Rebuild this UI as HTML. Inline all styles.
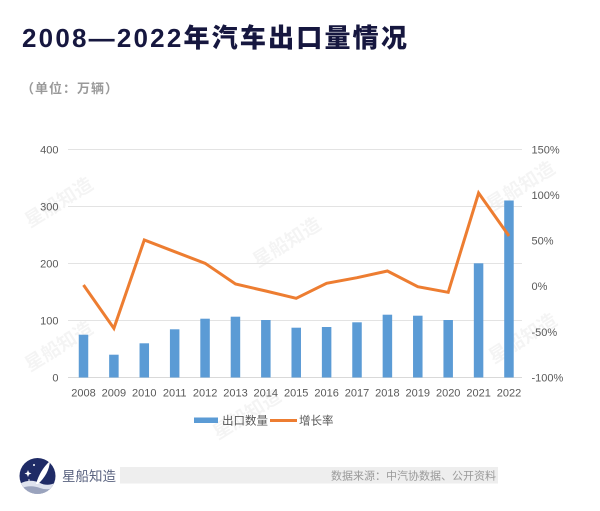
<!DOCTYPE html>
<html><head><meta charset="utf-8"><style>
html,body{margin:0;padding:0;background:#fff;}
svg{display:block;}
</style></head><body>
<svg width="600" height="511" viewBox="0 0 600 511" xmlns="http://www.w3.org/2000/svg">
<rect width="600" height="511" fill="#fff"/>
<!-- Title -->
<text x="22" y="47" font-family="'Liberation Sans','Noto Sans CJK SC',sans-serif" font-weight="900" font-size="26" letter-spacing="2.2" fill="#16173f">2008—2022年汽车出口量情况</text>
<text x="21" y="93" font-family="'Liberation Sans','Noto Sans CJK SC',sans-serif" font-weight="700" font-size="13" letter-spacing="1" fill="#9a9a9a">（单位：万辆）</text>

<!-- watermarks -->
<g font-family="'Noto Sans CJK SC',sans-serif" font-weight="700" font-size="19" fill="#000" fill-opacity="0.045">
<text transform="translate(30,228) rotate(-32)">星船知造</text>
<text transform="translate(30,372) rotate(-32)">星船知造</text>
<text transform="translate(258,268) rotate(-32)">星船知造</text>
<text transform="translate(492,212) rotate(-32)">星船知造</text>
<text transform="translate(494,364) rotate(-32)">星船知造</text>
<text transform="translate(218,440) rotate(-32)">星船知造</text>
</g>

<!-- grid -->
<g stroke="#e3e3e3" stroke-width="1">
<line x1="68" y1="149.5" x2="522" y2="149.5"/>
<line x1="68" y1="206.5" x2="522" y2="206.5"/>
<line x1="68" y1="263.5" x2="522" y2="263.5"/>
<line x1="68" y1="320.5" x2="522" y2="320.5"/>
<line x1="68" y1="377.5" x2="522" y2="377.5" stroke="#d9d9d9"/>
</g>

<!-- left axis labels -->
<g font-family="'Liberation Sans',sans-serif" font-size="11" fill="#595959" text-anchor="end">
<text x="58.5" y="153.5">400</text>
<text x="58.5" y="210.5">300</text>
<text x="58.5" y="267.5">200</text>
<text x="58.5" y="324.5">100</text>
<text x="58.5" y="381.5">0</text>
</g>
<!-- right axis labels -->
<g font-family="'Liberation Sans',sans-serif" font-size="11" fill="#595959">
<text x="531.5" y="153.5">150%</text>
<text x="531.5" y="199">100%</text>
<text x="531.5" y="244.5">50%</text>
<text x="531.5" y="290">0%</text>
<text x="531.5" y="336">-50%</text>
<text x="531.5" y="381.5">-100%</text>
</g>

<!-- bars -->
<g fill="#5b9bd5">
<rect x="78.75" y="334.7" width="9.5" height="42.8"/>
<rect x="109.14" y="354.7" width="9.5" height="22.8"/>
<rect x="139.53" y="343.3" width="9.5" height="34.2"/>
<rect x="169.92" y="329.3" width="9.5" height="48.2"/>
<rect x="200.31" y="318.7" width="9.5" height="58.8"/>
<rect x="230.7" y="316.7" width="9.5" height="60.8"/>
<rect x="261.09" y="320" width="9.5" height="57.5"/>
<rect x="291.48" y="327.7" width="9.5" height="49.8"/>
<rect x="321.87" y="327" width="9.5" height="50.5"/>
<rect x="352.26" y="322.3" width="9.5" height="55.2"/>
<rect x="382.65" y="314.7" width="9.5" height="62.8"/>
<rect x="413.04" y="315.7" width="9.5" height="61.8"/>
<rect x="443.43" y="320" width="9.5" height="57.5"/>
<rect x="473.82" y="263.3" width="9.5" height="114.2"/>
<rect x="504.21" y="200.5" width="9.5" height="177"/>
</g>

<!-- line -->
<polyline fill="none" stroke="#ed7d31" stroke-width="3" stroke-linejoin="miter" stroke-linecap="butt"
points="83.5,285 113.9,328.3 144.3,240 174.7,251.7 205.1,263.3 235.5,284 265.8,291 296.2,298.3 326.6,283.3 357,277.7 387.4,271 417.8,286.7 448.2,292.3 478.6,193 509,236"/>

<!-- x labels -->
<g font-family="'Liberation Sans',sans-serif" font-size="11" fill="#595959" text-anchor="middle">
<text x="83.5" y="396.5">2008</text>
<text x="113.9" y="396.5">2009</text>
<text x="144.3" y="396.5">2010</text>
<text x="174.7" y="396.5">2011</text>
<text x="205.1" y="396.5">2012</text>
<text x="235.5" y="396.5">2013</text>
<text x="265.8" y="396.5">2014</text>
<text x="296.2" y="396.5">2015</text>
<text x="326.6" y="396.5">2016</text>
<text x="357" y="396.5">2017</text>
<text x="387.4" y="396.5">2018</text>
<text x="417.8" y="396.5">2019</text>
<text x="448.2" y="396.5">2020</text>
<text x="478.6" y="396.5">2021</text>
<text x="509" y="396.5">2022</text>
</g>

<!-- legend -->
<rect x="194" y="417.5" width="24" height="5.5" fill="#5b9bd5"/>
<text x="222" y="424.5" font-family="'Liberation Sans','Noto Sans CJK SC',sans-serif" font-size="11.5" fill="#595959">出口数量</text>
<line x1="270" y1="420.5" x2="297" y2="420.5" stroke="#ed7d31" stroke-width="3"/>
<text x="299" y="424.5" font-family="'Liberation Sans','Noto Sans CJK SC',sans-serif" font-size="11.5" fill="#595959">增长率</text>

<!-- footer -->
<rect x="120" y="467" width="378" height="16.5" fill="#eeeeee"/>
<text x="496" y="479.5" text-anchor="end" font-family="'Liberation Sans','Noto Sans CJK SC',sans-serif" font-size="11" fill="#9a9a9a">数据来源：中汽协数据、公开资料</text>
<text x="62" y="481" font-family="'Liberation Sans','Noto Sans CJK SC',sans-serif" font-size="13.5" fill="#5a6380">星船知造</text>

<!-- logo -->
<defs><clipPath id="lc"><circle cx="37.5" cy="476" r="18"/></clipPath></defs>
<circle cx="37.5" cy="476" r="18" fill="#1f2b66"/>
<g clip-path="url(#lc)">
<path d="M19,484 Q30,478 40,483 Q48,487 57,482 L57,496 L19,496 Z" fill="#dfe3ee"/>
<path d="M19,489 Q30,484 40,488 Q48,491 57,487 L57,496 L19,496 Z" fill="#9aa3bd"/>
<path d="M36,484 Q40,470 50,461 Q49,474 38,484 Z" fill="#ffffff"/>
</g>
<g fill="#fff">
<path d="M28,470 l1,2.5 2.5,1 -2.5,1 -1,2.5 -1,-2.5 -2.5,-1 2.5,-1z"/>
<circle cx="34" cy="465" r="1"/>
<circle cx="29" cy="480" r="0.8"/>
</g>
</svg>
</body></html>
